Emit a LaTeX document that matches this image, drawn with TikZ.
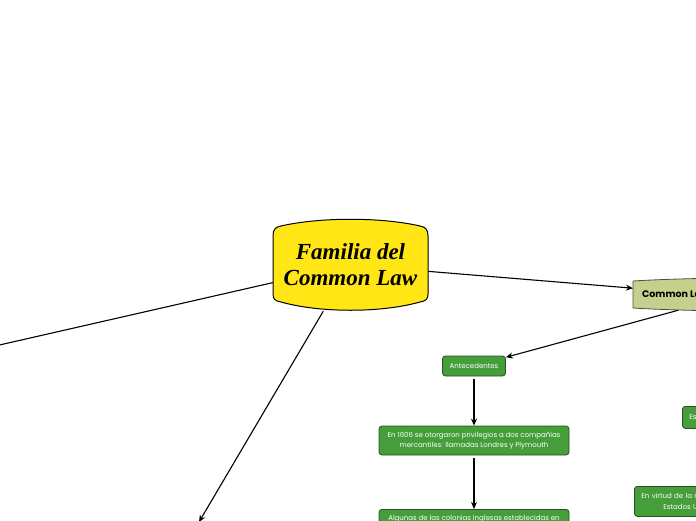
\documentclass[tikz,border=0pt]{standalone}
\usepackage{fontspec}
\setmainfont{Liberation Serif}
\newfontfamily\pop{Poppins}
\usetikzlibrary{arrows.meta}
\definecolor{mainyel}{RGB}{255,230,20}
\definecolor{clgreen}{RGB}{196,208,140}
\definecolor{boxgreen}{RGB}{69,158,58}
\definecolor{boxedge}{RGB}{40,80,35}
\tikzset{
  conn/.style={line width=1.1pt, draw=black},
  arr/.style={conn, -{Stealth[length=7pt,width=6pt]}},
  gbox/.style={draw=boxedge, fill=boxgreen, line width=0.8pt, rounded corners=3pt,
    text=white, font=\pop\fontsize{7}{10.5}\selectfont, align=center, inner sep=0pt},
  mainfont/.style={font=\bfseries\itshape\fontsize{23}{26}\selectfont},
}
\begin{document}
\begin{tikzpicture}[x=1pt,y=-1pt]
\useasboundingbox (0,0) rectangle (696,520);
\clip (0,0) rectangle (696,520);
% main node
\node[inner sep=0pt, minimum width=155pt, minimum height=92pt] (main) at (350.5,265) {};
\path[draw=black, line width=1pt, fill=mainyel]
  (281,226) .. controls (320,217) and (381,217) .. (420,226)
  .. controls (426,227) and (428,230) .. (428,236)
  -- (428,294)
  .. controls (428,299) and (426,301) .. (420,302)
  .. controls (381,313) and (320,313) .. (281,302)
  .. controls (275,301) and (273,299) .. (273,294)
  -- (273,236)
  .. controls (273,230) and (275,227) .. (281,226) -- cycle;
\node[inner sep=0pt, align=center, mainfont] (maintext) at (350.5,265) {Familia del\\Common Law};
% Common Law node
\node[inner sep=0pt, minimum width=202pt, minimum height=30pt] (cl) at (734,295) {};
\path[draw=black!70, line width=0.8pt, fill=clgreen]
  (633,281) .. controls (680,278) and (790,276) .. (835,281)
  -- (835,308) .. controls (790,313) and (680,311) .. (633,308) -- cycle;
\node[anchor=west, inner sep=0pt, font=\pop\bfseries\fontsize{9.5}{11}\selectfont] (cltext) at (642,294.5) {Common Law};
% green boxes
\node[gbox, minimum width=63pt, minimum height=20pt] (ant) at (474,366) {Antecedentes};
\node[gbox, minimum width=190pt, minimum height=29pt] (b2) at (474,440.5) {En 1606 se otorgaron privilegios a dos compañías\\mercantiles: llamadas Londres y Plymouth};
\node[gbox, minimum width=190pt, minimum height=30pt, anchor=north] (b3) at (474,509) {Algunas de las colonias inglesas establecidas en\\\strut};
\node[gbox, text width=46pt, minimum height=22pt, anchor=north west, align=left, inner xsep=7pt] (b4) at (682,406) {Es};
\node[gbox, text width=106pt, minimum height=30pt, anchor=north west, align=left, inner xsep=7pt] (b5) at (634,486) {En virtud de la n\\\hspace*{22pt}Estados U};
% off-picture ends
\coordinate (offL) at (-40,354);
\coordinate (offD) at (199,522);
% connectors
\draw[conn] (main) -- (offL);
\draw[arr] (main) -- (offD);
\draw[arr] (main) -- (633,288.2);
\draw[arr] (cl) -- (ant);
\draw[arr, shorten <=3pt] (ant) -- (b2);
\draw[arr, shorten <=3pt] (b2) -- (b3);
\end{tikzpicture}
\end{document}
